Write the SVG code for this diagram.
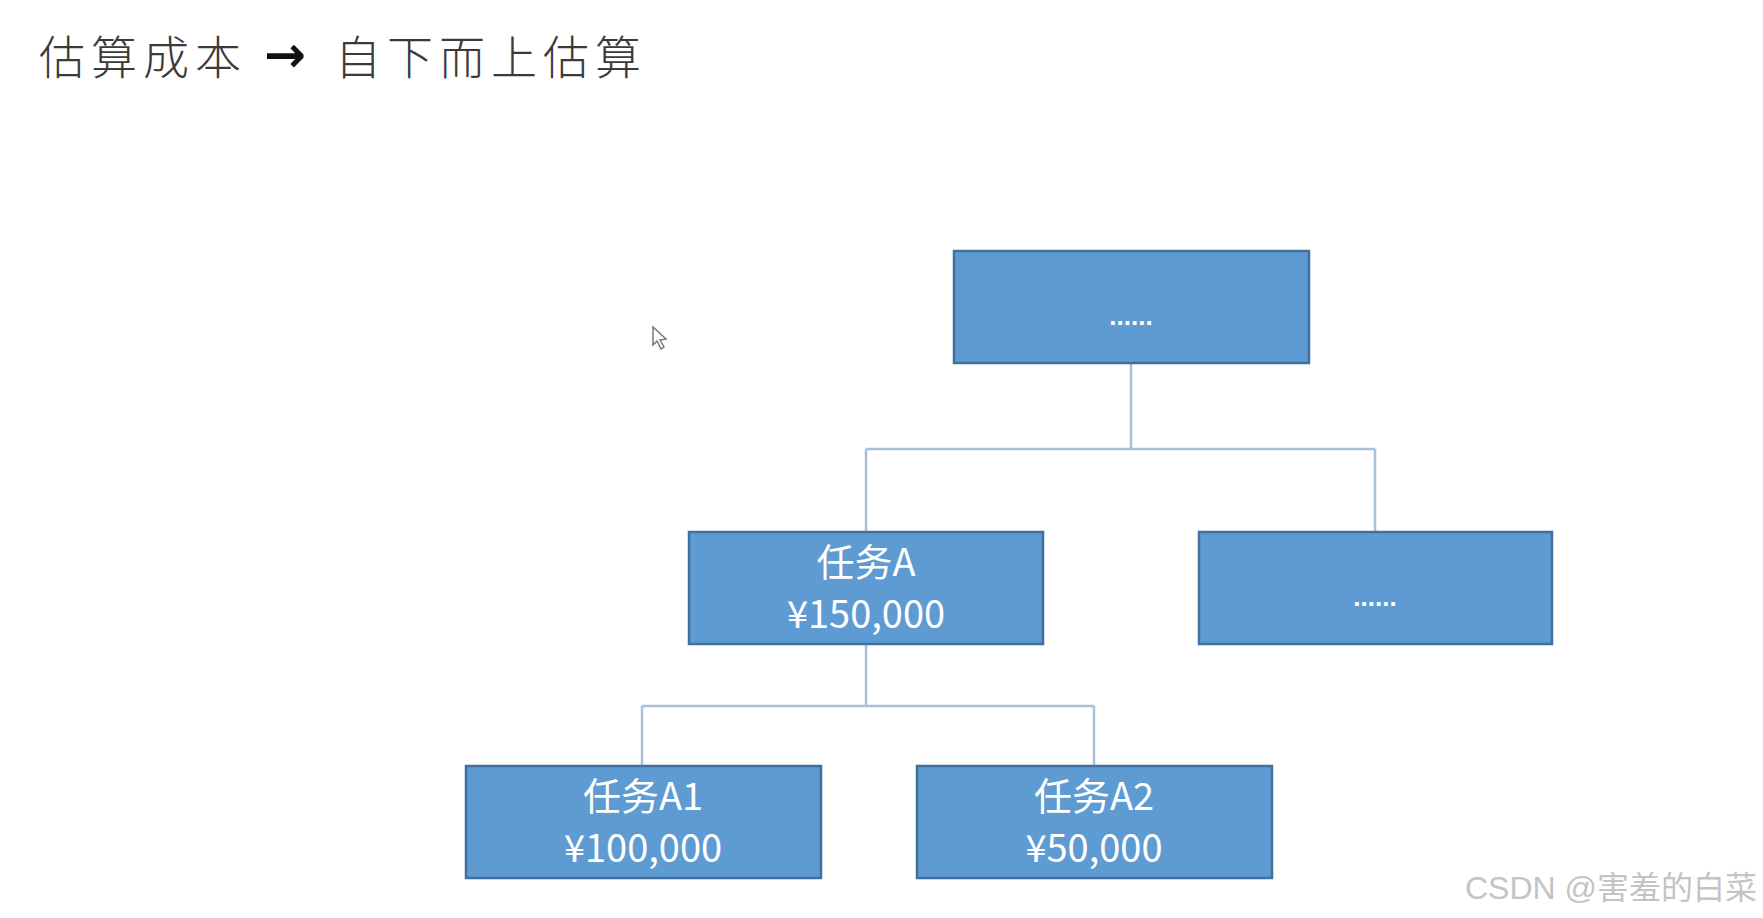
<svg xmlns="http://www.w3.org/2000/svg" width="1763" height="918" viewBox="0 0 1763 918">
<defs>
<style>
.box{fill:#5E9BD3;stroke:#41709E;stroke-width:2.5}
.lbl{fill:#FFFFFF;font-family:"Noto Sans CJK SC","Noto Sans",sans-serif;font-size:38px;text-anchor:middle}
.dots{fill:#FFFFFF;font-family:"Liberation Sans",sans-serif;font-size:26px;font-weight:700;text-anchor:middle}
.conn{fill:none;stroke:#A8BFD8;stroke-width:2.5}
.title{font-family:"Noto Sans CJK SC",sans-serif;font-size:46px;font-weight:300;fill:#3a3a3a;letter-spacing:6px}
</style>
</defs>
<rect width="1763" height="918" fill="#FFFFFF"/>
<text class="title" x="39" y="74">估算成本</text>
<text x="264" y="72" font-family="DejaVu Sans, sans-serif" font-size="50" font-weight="700" fill="#111">→</text>
<text class="title" x="335" y="74">自下而上估算</text>
<g id="connectors">
<path class="conn" d="M1131 363 V449 M866 449 H1375 M866 449 V532 M1375 449 V532"/>
<path class="conn" d="M866 644 V706 M642 706 H1094 M642 706 V766 M1094 706 V766"/>
</g>
<g id="node-top">
<rect class="box" x="954" y="251" width="355" height="112"/>
<text class="dots" x="1131" y="325">......</text>
</g>
<g id="node-a">
<rect class="box" x="689" y="532" width="354" height="112"/>
<text class="lbl" x="866" y="576">任务A</text>
<text class="lbl" x="866" y="628">¥150,000</text>
</g>
<g id="node-right">
<rect class="box" x="1199" y="532" width="353" height="112"/>
<text class="dots" x="1375" y="606">......</text>
</g>
<g id="node-a1">
<rect class="box" x="466" y="766" width="355" height="112"/>
<text class="lbl" x="643" y="810">任务A1</text>
<text class="lbl" x="643" y="862">¥100,000</text>
</g>
<g id="node-a2">
<rect class="box" x="917" y="766" width="355" height="112"/>
<text class="lbl" x="1094" y="810">任务A2</text>
<text class="lbl" x="1094" y="862">¥50,000</text>
</g>
<path d="M653 327 V345 L657 341 L661 349 L664 347 L660 340 L666 339 Z" fill="#fff" stroke="#777" stroke-width="1.5"/>
<text x="1757" y="899" text-anchor="end" font-family="Liberation Sans, Noto Sans CJK SC, sans-serif" font-size="32" fill="#C4C4C4">CSDN @害羞的白菜</text>
</svg>
